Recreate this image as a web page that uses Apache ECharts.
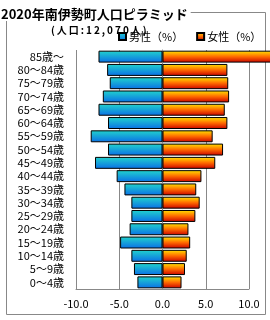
<!DOCTYPE html>
<html><head><meta charset="utf-8">
<script src="https://cdn.jsdelivr.net/npm/echarts@6/dist/echarts.min.js"></script>
<style>html,body{margin:0;padding:0;background:#fff}#c{width:270px;height:320px}</style>
</head><body><div id="c"></div>
<script>
const categories = ['0～4歳','5～9歳','10～14歳','15～19歳','20～24歳','25～29歳','30～34歳','35～39歳','40～44歳','45～49歳','50～54歳','55～59歳','60～64歳','65～69歳','70～74歳','75～79歳','80～84歳','85歳～'];
const male = [2.9,3.3,3.6,4.9,3.8,3.6,3.6,4.4,5.3,7.8,6.3,8.3,6.3,7.4,6.9,6.1,6.4,7.4];
const female = [2.2,2.6,2.8,3.2,3.0,3.8,4.3,3.9,4.5,6.1,7.0,5.8,7.5,7.2,7.7,7.6,7.5,13.0];
const xTicks = [-10,-5,0,5,10];
const titleText = '2020年南伊勢町人口ピラミッド';
const subText = '(人口:12,070人)';
const legendNames = ['男性（%）','女性（%）'];

const font = '"Noto Sans CJK JP", sans-serif';
const spaced = s => Array.from(s).join('\u2009');
const blueGrad = new echarts.graphic.LinearGradient(0,0,0,1,[{offset:0,color:'#22d4cc'},{offset:1,color:'#0a6fe6'}]);
const redGrad = new echarts.graphic.LinearGradient(0,0,0,1,[{offset:0,color:'#ffe600'},{offset:0.5,color:'#ff6a00'},{offset:1,color:'#c80000'}]);
const chart = echarts.init(document.getElementById('c'));
chart.setOption({
  animation:false,
  textStyle:{fontFamily:font},
  graphic:[{type:'rect',z:-10,shape:{x:6.5,y:12.5,width:259,height:302},style:{fill:'none',stroke:'#888',lineWidth:1}}],
  title:[
    {text:titleText,left:1,top:8,padding:[0,3,0,0],backgroundColor:'#fff',textStyle:{fontSize:13,fontWeight:'bold',color:'#000',fontFamily:font}},
    {text:spaced(subText),left:51,top:25,padding:0,textStyle:{fontSize:10,fontWeight:'bold',color:'#000',fontFamily:font}}
  ],
  legend:{data:legendNames,left:118,top:31,itemWidth:7,itemHeight:7,itemGap:13,icon:'rect',padding:0,
    textStyle:{fontSize:11,color:'#000',padding:[0,0,0,-2]}},
  grid:{left:76,right:21,top:50,bottom:31,containLabel:false},
  xAxis:{type:'value',min:-10,max:10,interval:5,
    axisLine:{show:true,lineStyle:{color:'#888'}},axisTick:{show:false},
    splitLine:{show:true,lineStyle:{color:'#888',width:1}},
    axisLabel:{formatter:v=>v.toFixed(1),fontSize:11,color:'#000',margin:9}},
  yAxis:{type:'category',data:categories,
    axisLine:{show:true,lineStyle:{color:'#888'}},axisTick:{show:false},
    axisLabel:{interval:0,fontSize:11,color:'#000',margin:12}},
  series:[
    {name:legendNames[0],type:'bar',data:male.map(v=>-v),barWidth:'90%',barGap:'-100%',clip:false,
      itemStyle:{color:blueGrad,borderColor:'#000',borderWidth:1}},
    {name:legendNames[1],type:'bar',data:female,barWidth:'90%',barGap:'-100%',clip:false,
      itemStyle:{color:redGrad,borderColor:'#000',borderWidth:1}}
  ]
});
</script></body></html>
